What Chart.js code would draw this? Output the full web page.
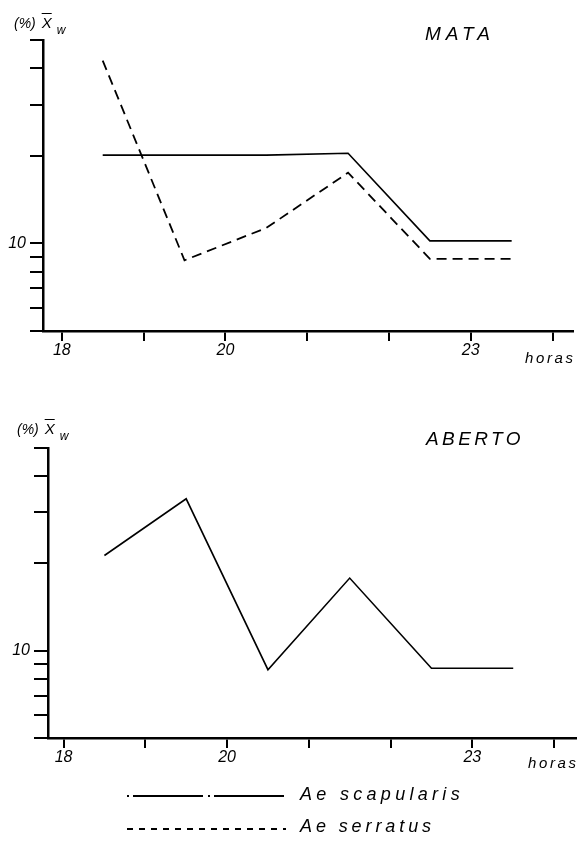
<!DOCTYPE html>
<html>
<head>
<meta charset="utf-8">
<script src="https://cdn.jsdelivr.net/npm/chart.js@4.4.1/dist/chart.umd.min.js"></script>
<style>
  html, body { margin: 0; padding: 0; background: #fff; }
  body { width: 577px; height: 851px; position: relative; overflow: hidden;
         font-family: "Liberation Sans", Arial, sans-serif; font-style: italic; color: #000; }
  .box { position: absolute; left: 0; width: 577px; }
  .t { position: absolute; white-space: nowrap; }
  .ttl { font-size: 19px; line-height: 19px; }
  .hr { font-size: 15px; line-height: 15px; letter-spacing: 2.6px; }
  .yl { font-size: 14px; line-height: 14px; }
  .yl .x { text-decoration: overline; font-size: 15px; margin-left: 2px; }
  .yl sub { font-size: 12px; vertical-align: -6px; margin-left: 5px; }
  .lg { font-size: 18px; line-height: 18px; }
</style>
</head>
<body>
<div class="box" style="top:0;height:361px;"><canvas id="c1"></canvas></div>
<div class="box" style="top:400px;height:368px;"><canvas id="c2"></canvas></div>

<div class="t yl" style="left:14px;top:16px;">(%) <span class="x">X</span><sub>w</sub></div>
<div class="t ttl" style="left:425px;top:24px;letter-spacing:5px;">MATA</div>
<div class="t hr" style="left:525px;top:350px;">horas</div>

<div class="t yl" style="left:17px;top:422px;">(%) <span class="x">X</span><sub>w</sub></div>
<div class="t ttl" style="left:426px;top:429px;letter-spacing:3.4px;">ABERTO</div>
<div class="t hr" style="left:528px;top:755px;">horas</div>

<svg style="position:absolute;left:0;top:780px;" width="577" height="60">
  <line x1="127" y1="16" x2="286" y2="16" stroke="#000" stroke-width="2" stroke-dasharray="2 4 70 5"/>
  <line x1="127" y1="49" x2="286" y2="49" stroke="#000" stroke-width="2" stroke-dasharray="6 6"/>
</svg>
<div class="t lg" style="left:300px;top:785px;letter-spacing:4.3px;">Ae scapularis</div>
<div class="t lg" style="left:300px;top:817px;letter-spacing:3.9px;">Ae serratus</div>

<script>
// ---- data ----
const horas = [18.5, 19.5, 20.5, 21.5, 22.5, 23.5];
const mataScapularis = [20.1, 20.1, 20.1, 20.4, 10.2, 10.2];
const mataSerratus   = [42.5, 8.75, 11.3, 17.5, 8.85, 8.85];
const abertoScapularis = [21.3, 33.4, 8.6, 17.8, 8.7, 8.7];
const xTickValues = [18, 19, 20, 21, 22, 23, 24];
const xTickLabels = ['18', '', '20', '', '', '23', ''];
const yTickValues = [5, 6, 7, 8, 9, 10, 20, 30, 40, 50];
const yTickLabels = ['', '', '', '', '', '10', '', '', '', ''];

const FONT = { family: 'Liberation Sans', size: 16, style: 'italic' };

function pts(ys) { return horas.map((h, i) => ({ x: h, y: ys[i] })); }

function makeOptions(xmin, xmax, yWidth, padTop, padRight, yTickLen) {
  return {
    responsive: true,
    maintainAspectRatio: false,
    animation: false,
    layout: { padding: { left: 0, top: padTop, right: padRight, bottom: 0 } },
    plugins: { legend: { display: false }, tooltip: { enabled: false }, title: { display: false } },
    elements: { point: { radius: 0 }, line: { tension: 0 } },
    scales: {
      x: {
        type: 'linear', min: xmin, max: xmax,
        afterBuildTicks: s => { s.ticks = xTickValues.map(v => ({ value: v })); },
        afterFit: s => { s.height = 30; },
        ticks: {
          color: '#000', font: FONT, padding: 0, maxRotation: 0, autoSkip: false,
          callback: v => { const i = xTickValues.indexOf(v); return i >= 0 ? xTickLabels[i] : ''; }
        },
        grid: { drawOnChartArea: false, drawTicks: true, tickLength: 10, color: '#000', lineWidth: 2 },
        border: { display: true, color: '#000', width: 2.5 }
      },
      y: {
        type: 'logarithmic', min: 5, max: 50,
        afterBuildTicks: s => { s.ticks = yTickValues.map(v => ({ value: v })); },
        afterFit: s => { s.width = yWidth; },
        ticks: {
          color: '#000', font: FONT, padding: 4, autoSkip: false,
          callback: v => { const i = yTickValues.indexOf(v); return i >= 0 ? yTickLabels[i] : ''; }
        },
        grid: { drawOnChartArea: false, drawTicks: true, tickLength: yTickLen, color: '#000', lineWidth: 2 },
        border: { display: true, color: '#000', width: 2.5 }
      }
    }
  };
}

new Chart(document.getElementById('c1'), {
  type: 'line',
  data: {
    datasets: [
      { label: 'Ae scapularis', data: pts(mataScapularis), borderColor: '#000', borderWidth: 1.6, fill: false },
      { label: 'Ae serratus', data: pts(mataSerratus), borderColor: '#000', borderWidth: 1.8, borderDash: [10, 6], fill: false }
    ]
  },
  options: makeOptions(17.77, 24.25, 43, 40, 4, 13)
});

new Chart(document.getElementById('c2'), {
  type: 'line',
  data: {
    datasets: [
      { label: 'Ae scapularis', data: pts(abertoScapularis), borderColor: '#000', borderWidth: 1.6, fill: false }
    ]
  },
  options: makeOptions(17.81, 24.28, 48, 48, 0, 14)
});
</script>
</body>
</html>
